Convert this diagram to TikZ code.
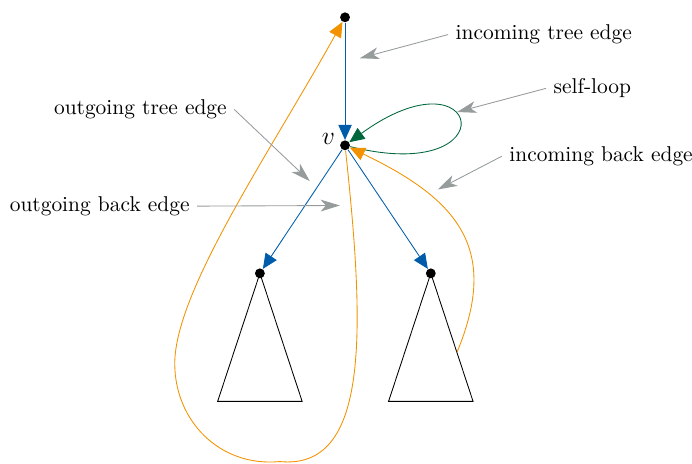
\documentclass[tikz,border=0pt]{standalone}
\usepackage{amsmath,amssymb}
\usetikzlibrary{arrows.meta}
\definecolor{treeblue}{RGB}{0,92,171}
\definecolor{loopgreen}{RGB}{0,102,60}
\definecolor{backorange}{RGB}{243,146,0}
\definecolor{notegray}{RGB}{150,155,155}
\tikzset{
  vtx/.style={circle,fill=black,inner sep=0pt,minimum size=4.6pt},
  treeedge/.style={treeblue,-{Triangle[length=7pt,width=6.2pt]}},
  loopedge/.style={loopgreen,-{Triangle[length=7pt,width=6.2pt]}},
  backedge/.style={backorange,-{Triangle[length=7pt,width=6.2pt]}},
  note/.style={notegray,-{Stealth[length=9pt,width=5.5pt,inset=2.5pt]}}
}
\begin{document}
\begin{tikzpicture}[x=1.05cm,y=1.05cm]
\useasboundingbox (-5.39,-4.97) rectangle (5.42,2.27);
% vertices
\node[vtx] (t) at (0,2) {};
\node[vtx,label={[yshift=3pt,inner sep=2pt]left:\large$v$}] (v) at (0,0) {};
\node[vtx] (a) at (-1.33,-2) {};
\node[vtx] (b) at (1.34,-2) {};
% subtrees
\foreach \c in {a,b}{\draw (\c.center) -- ++(-0.66,-2) -- ++(1.32,0) -- cycle;}
\coordinate (rs) at (1.75,-3.23);
% edges
\draw[treeedge] (t) -- (v);
\draw[treeedge] (v) -- (a);
\draw[treeedge] (v) -- (b);
\draw[loopedge] (v) to[out=-14,in=36,distance=2.7cm] (v);
\draw[backedge] (v) .. controls +(0.31,-2.89) and +(1.41,-0.14) .. (-1.02,-4.94)
  .. controls +(-0.94,-0.09) and +(0,-0.89) .. (-2.66,-3.41)
  .. controls +(0,1.14) and +(-1.14,-2.06) .. (t);
\draw[backedge] (rs) .. controls +(0.66,1.59) and +(1.80,-0.86) .. (v);
% annotations
\node[anchor=west] (itl) at (1.61,1.73) {incoming tree edge};
\coordinate (itp) at (0.23,1.36);
\draw[note] (itl.west) -- (itp);
\node[anchor=west] (slp) at (3.14,0.89) {self-loop};
\coordinate (slpp) at (1.75,0.52);
\draw[note] (slp.west) -- (slpp);
\node[anchor=west] (ibl) at (2.45,-0.17) {incoming back edge};
\coordinate (ibp) at (1.45,-0.69);
\draw[note] (ibl.west) -- (ibp);
\node[anchor=east] (otl) at (-1.73,0.56) {outgoing tree edge};
\coordinate (otp) at (-0.55,-0.56);
\draw[note] (otl.east) -- (otp);
\node[anchor=east] (obl) at (-2.31,-0.95) {outgoing back edge};
\coordinate (obp) at (-0.08,-0.94);
\draw[note] (obl.east) -- (obp);
\end{tikzpicture}
\end{document}
